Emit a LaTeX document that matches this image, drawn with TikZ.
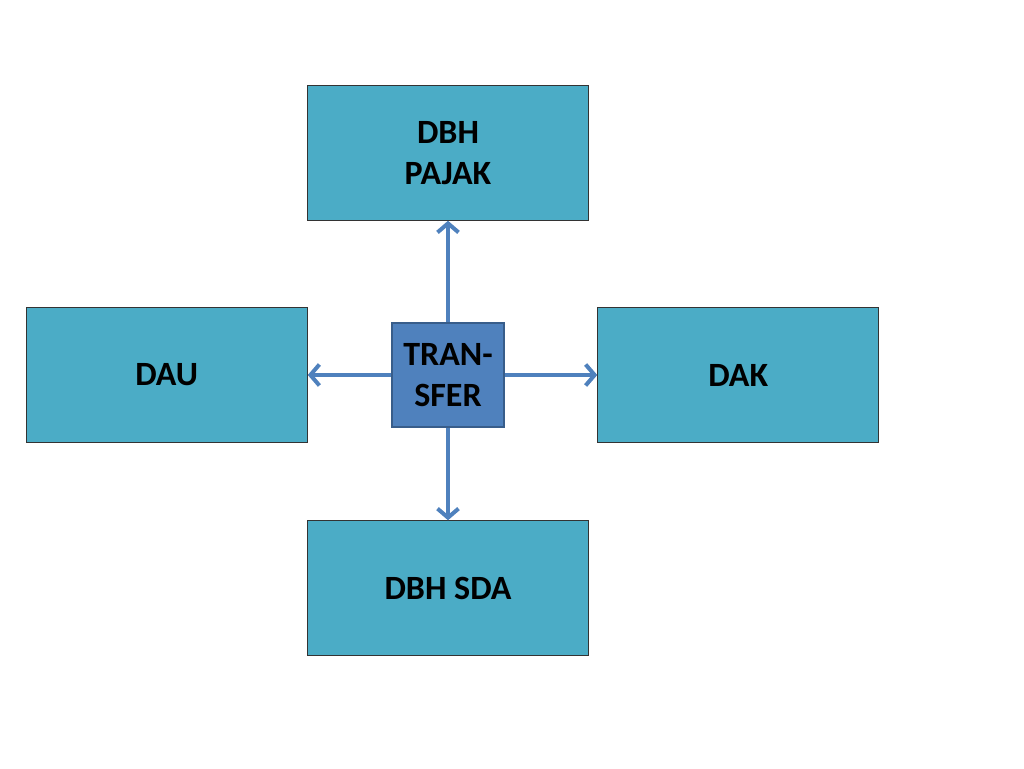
\documentclass[tikz,border=0pt]{standalone}
\usepackage{fontspec}
\setmainfont{Carlito}
\usetikzlibrary{arrows.meta, positioning}
\definecolor{boxfill}{HTML}{4BACC6}
\definecolor{hubfill}{HTML}{4F81BD}
\definecolor{hubline}{HTML}{385D8A}

\begin{document}
\begin{tikzpicture}[
  x=1pt, y=-1pt,
  every node/.style={font=\bfseries\fontsize{34}{41}\selectfont},
  fund/.style={rectangle, draw=black!80, line width=1pt, fill=boxfill, align=center,
    minimum width=281pt, minimum height=135pt, inner sep=0pt},
  hub/.style={rectangle, draw=hubline, line width=2.5pt, fill=hubfill, align=center,
    minimum width=112pt, minimum height=104pt, inner sep=0pt},
  flow/.style={draw=hubfill, line width=4pt, -{Straight Barb[length=9pt,width=21pt,line width=4pt]}}
]
\useasboundingbox (0,0) rectangle (1024,768);
% Nodes
\node[hub] (transfer) at (448,375) {TRAN-\\SFER};
\node[fund, above=101pt of transfer] (pajak) {DBH\\PAJAK};
\node[fund, left=83pt of transfer] (dau) {DAU};
\node[fund, right=92pt of transfer] (dak) {DAK};
\node[fund, below=92pt of transfer] (sda) {DBH SDA};

% Arrows
\draw[flow] (transfer) -- (pajak);
\draw[flow] (transfer) -- (dau);
\draw[flow] (transfer) -- (dak);
\draw[flow] (transfer) -- (sda);

\end{tikzpicture}
\end{document}
